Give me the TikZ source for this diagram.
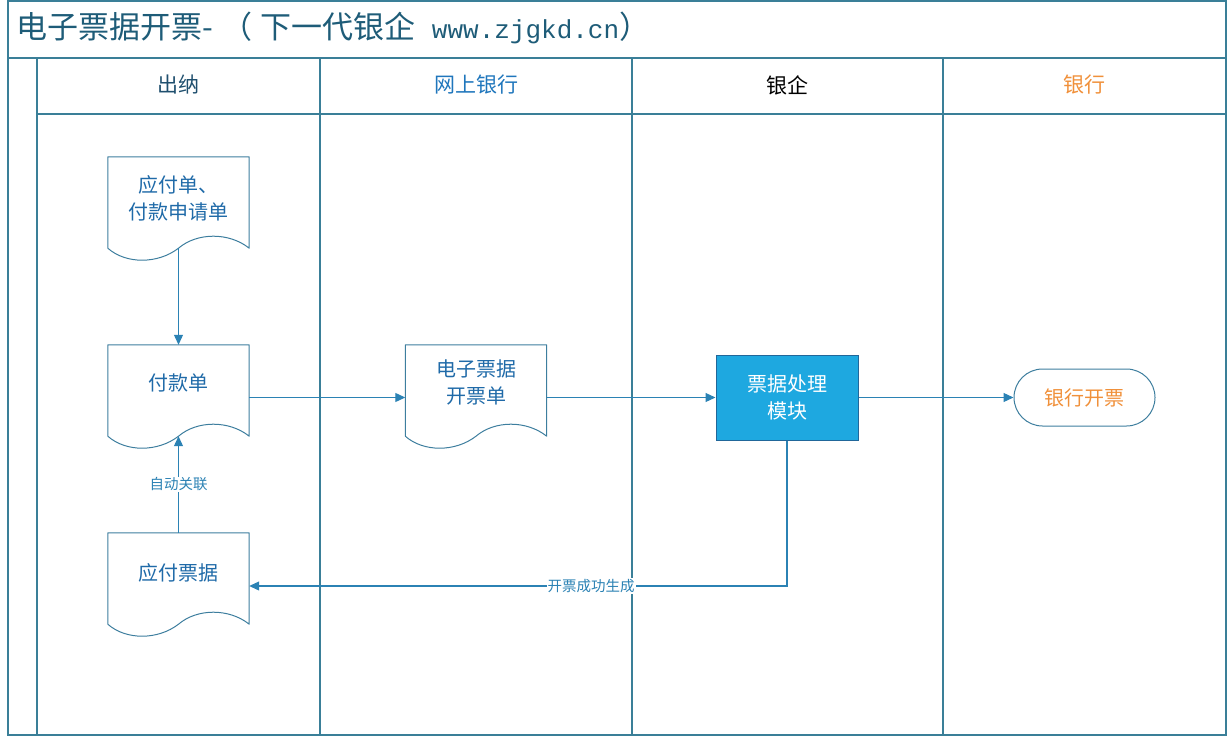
\documentclass[tikz,border=0pt]{standalone}
\usepackage{fontspec}
\setmainfont{Noto Sans CJK SC}
\newfontfamily\monof{Liberation Mono}
\usetikzlibrary{arrows.meta,shapes.misc,calc}
\definecolor{framec}{HTML}{3A7F98}
\definecolor{linec}{HTML}{2B82B4}
\definecolor{docc}{HTML}{3D7E9E}
\definecolor{txtc}{HTML}{1F6AA8}
\definecolor{titlec}{HTML}{1E5C78}
\definecolor{hdr1}{HTML}{1F4F6E}
\definecolor{hdr2}{HTML}{1F76BC}
\definecolor{orangec}{HTML}{F0903A}
\definecolor{pmfill}{HTML}{1EA8E0}
\definecolor{pmdraw}{HTML}{21679A}
\newcommand\docpath[1]{%
  \draw[docline] (#1.south west) -- (#1.north west) -- (#1.north east) -- (#1.south east)
    .. controls ($(#1.south east)+(-20,-16)$) and ($(#1.south east)+(-52,-16)$) .. (#1.south)
    .. controls ($(#1.south west)+(50,16)$) and ($(#1.south west)+(18,16)$) .. (#1.south west);}
\begin{document}
\begin{tikzpicture}[x=1pt,y=-1pt,
  frame/.style={draw=framec,line width=1.3pt},
  docbox/.style={draw=none,minimum width=141pt,minimum height=91pt,inner sep=0pt},
  docline/.style={draw=docc,line width=1pt,line join=round},
  doctext/.style={text=txtc,font=\fontsize{20}{27}\selectfont,align=center,inner sep=0pt},
  hdr/.style={font=\fontsize{21}{21}\selectfont,inner sep=0pt},
  conn/.style={draw=linec,line width=1.1pt,-{Triangle[length=10pt,width=9pt]}},
  lbl/.style={fill=white,text=linec,font=\fontsize{14.5}{14.5}\selectfont,inner sep=1pt}]
\useasboundingbox (0,0) rectangle (1228,736);
% frame
\draw[draw=framec,line width=2pt] (8,1) rectangle (1226,735);
\draw[frame] (8,58) -- (1226,58);
\draw[frame] (37,58) -- (37,735);
\draw[frame] (37,114) -- (1226,114);
\foreach \xx in {320,632,943} \draw[frame] (\xx,58) -- (\xx,735);
% title
\node[anchor=west,text=titlec,font=\fontsize{31}{31}\selectfont,inner sep=0pt] (title) at (16,28)
  {电子票据开票-\hspace{9pt}（\hspace{8pt}下一代银企\hspace{16pt}{\monof\fontsize{26}{26}\selectfont www.zjgkd.cn}）};
% headers
\node[hdr,text=hdr1] (h1) at (178.5,85) {出纳};
\node[hdr,text=hdr2] (h2) at (476,85) {网上银行};
\node[hdr,text=black] (h3) at (787.5,85) {银企};
\node[hdr,text=orangec] (h4) at (1084.5,85) {银行};
% documents
\node[docbox] (d1) at (178.5,202.5) {};
\node[docbox] (d2) at (178.5,390.5) {};
\node[docbox] (d3) at (476,390.5) {};
\node[docbox] (d4) at (178.5,578.5) {};
\docpath{d1}\docpath{d2}\docpath{d3}\docpath{d4}
\node[doctext] (t1) at ([yshift=4]d1.center) {应付单、\\付款申请单};
\node[doctext] (t2) at ([yshift=7.5]d2.center) {付款单};
\node[doctext] (t3) at ([yshift=8]d3.center) {电子票据\\开票单};
\node[doctext] (t4) at ([yshift=5.5]d4.center) {应付票据};
% process
\node[draw=pmdraw,fill=pmfill,line width=1pt,minimum width=142pt,minimum height=85pt,inner sep=0pt,
  text=white,font=\fontsize{20}{27}\selectfont,align=center] (pm) at (787,397.5) {票据处理\\模块};
\node[rounded rectangle,draw=docc,line width=1pt,minimum width=141pt,minimum height=57pt,inner sep=0pt,
  text=orangec,font=\fontsize{20}{20}\selectfont] (bank) at (1084.5,397.5) {银行开票};
% connectors
\draw[conn] (d1.south) -- (d2.north);
\draw[conn] (d4.north) -- node[lbl] (l1) {自动关联} (d2.south);
\draw[conn] (d2.east |- pm.center) -- (d3.west |- pm.center);
\draw[conn] (d3.east |- pm.center) -- (pm.west);
\draw[conn] (pm.east) -- (bank.west);
\coordinate (c1) at (787,586);
\draw[conn] (pm.south) -- (c1) -- node[lbl,pos=0.364] (l2) {开票成功生成} (d4.east |- c1);
\end{tikzpicture}
\end{document}
